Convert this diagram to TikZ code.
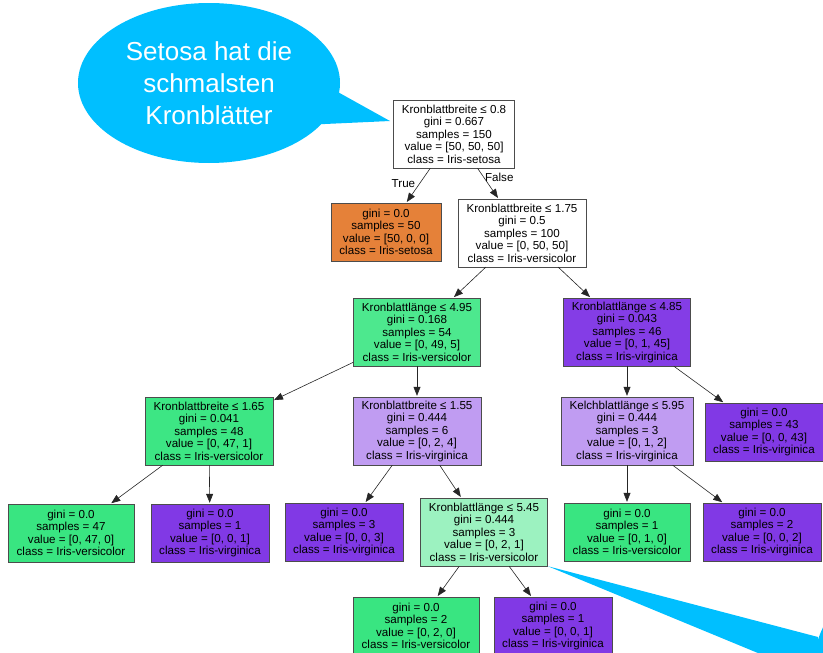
\documentclass[tikz,border=0pt]{standalone}
\usepackage{fontspec}
\setmainfont{Liberation Sans}
\usepackage{tikz}
\usetikzlibrary{arrows.meta}
\usetikzlibrary{shapes.callouts}
\usetikzlibrary{positioning}
\definecolor{setosa}{HTML}{E58139}
\definecolor{versicolor}{HTML}{39E581}
\definecolor{virginica}{HTML}{8139E5}
\definecolor{versimix}{HTML}{4DE88E}
\definecolor{versimost}{HTML}{3DE684}
\definecolor{virgimost}{HTML}{843DE6}
\definecolor{virgilight}{HTML}{C09CF2}
\definecolor{versilight}{HTML}{9CF2C0}
\definecolor{bubblecyan}{RGB}{0,191,255}
\newcommand{\treefont}{\fontsize{11.6}{12.5}\selectfont}
\newcommand{\bubblefont}{\fontsize{26}{32}\selectfont}

\begin{document}
\begin{tikzpicture}[x=1pt,y=-1pt,->,>={Triangle[length=9pt,width=7pt]},shorten >=1pt,semithick]
\tikzstyle{split} = [rectangle, draw=black!70, thin, align=center, inner xsep=8.5pt, inner ysep=2pt, minimum height=68pt, font=\treefont]
\tikzstyle{leaf} = [split, minimum height=58pt]
\tikzstyle{bubble} = [ellipse callout, fill=bubblecyan, text=white, align=center, font=\bubblefont]
\tikzstyle{branchlabel} = [font=\treefont, inner sep=1pt]
\tikzset{every edge/.append style={draw=black!85}}

\useasboundingbox (0,0) rectangle (823,653);
\clip (0,0) rectangle (823,653);

% level 0 and 1
\node[split] (N0) at (454,134) {Kronblattbreite ≤ 0.8\\gini = 0.667\\samples = 150\\value = [50, 50, 50]\\class = Iris-setosa};
\node[leaf, fill=setosa] (N1) at (386,232) {gini = 0.0\\samples = 50\\value = [50, 0, 0]\\class = Iris-setosa};
\node[split] (N2) at (522,233) {Kronblattbreite ≤ 1.75\\gini = 0.5\\samples = 100\\value = [0, 50, 50]\\class = Iris-versicolor};

% level 2
\node[split, fill=versimix] (N3) at (417,332) {Kronblattlänge ≤ 4.95\\gini = 0.168\\samples = 54\\value = [0, 49, 5]\\class = Iris-versicolor};
\node[split, fill=virgimost] (N4) at (627,332) {Kronblattlänge ≤ 4.85\\gini = 0.043\\samples = 46\\value = [0, 1, 45]\\class = Iris-virginica};

% level 3
\node[split, fill=versimost] (N5) at (209,431) {Kronblattbreite ≤ 1.65\\gini = 0.041\\samples = 48\\value = [0, 47, 1]\\class = Iris-versicolor};
\node[split, fill=virgilight] (N6) at (417,431) {Kronblattbreite ≤ 1.55\\gini = 0.444\\samples = 6\\value = [0, 2, 4]\\class = Iris-virginica};
\node[split, fill=virgilight] (N7) at (627,431) {Kelchblattlänge ≤ 5.95\\gini = 0.444\\samples = 3\\value = [0, 1, 2]\\class = Iris-virginica};
\node[leaf, fill=virginica] (N8) at (764,432) {gini = 0.0\\samples = 43\\value = [0, 0, 43]\\class = Iris-virginica};

% level 4
\node[leaf, fill=versicolor] (N9) at (71,533) {gini = 0.0\\samples = 47\\value = [0, 47, 0]\\class = Iris-versicolor};
\node[leaf, fill=virginica] (N10) at (210,533) {gini = 0.0\\samples = 1\\value = [0, 0, 1]\\class = Iris-virginica};
\node[leaf, fill=virginica] (N11) at (344,532) {gini = 0.0\\samples = 3\\value = [0, 0, 3]\\class = Iris-virginica};
\node[split, fill=versilight] (N12) at (484,532) {Kronblattlänge ≤ 5.45\\gini = 0.444\\samples = 3\\value = [0, 2, 1]\\class = Iris-versicolor};
\node[leaf, fill=versicolor] (N13) at (627,532) {gini = 0.0\\samples = 1\\value = [0, 1, 0]\\class = Iris-versicolor};
\node[leaf, fill=virginica] (N14) at (762,532) {gini = 0.0\\samples = 2\\value = [0, 0, 2]\\class = Iris-virginica};

% level 5
\node[leaf, fill=versicolor] (N15) at (416,626) {gini = 0.0\\samples = 2\\value = [0, 2, 0]\\class = Iris-versicolor};
\node[leaf, fill=virginica] (N16) at (553,626) {gini = 0.0\\samples = 1\\value = [0, 0, 1]\\class = Iris-virginica};

\path (N0) edge node[branchlabel, left=3pt, pos=0.45] {True} (N1);
\path (N0) edge node[branchlabel, right, pos=0.3] {False} (N2);
\foreach \p/\c in {2/3,2/4,3/5,3/6,4/7,4/8,5/9,5/10,6/11,6/12,7/13,7/14,12/15,12/16}
{
   \path (N\p) edge (N\c);
}

% speech bubbles
\coordinate (TIP1) at (390,121);
\node[bubble, minimum width=262pt, minimum height=160pt, callout absolute pointer={(TIP1)}, callout pointer arc=24] (BUB1) at (209,83) {Setosa hat die\\schmalsten\\Kronblätter};

% second bubble, mostly outside the frame
\coordinate (BUB2) at (964,665);
\fill[-, bubblecyan] (BUB2) ellipse [x radius=150, y radius=110];
\fill[-, bubblecyan] (N12.south east) -- (818,637) -- (816,677) -- cycle;

\end{tikzpicture}
\end{document}
